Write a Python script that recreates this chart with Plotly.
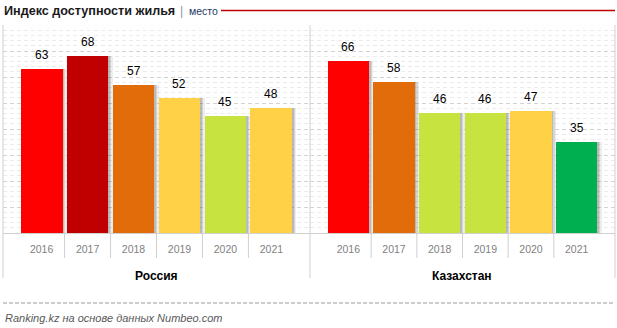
import plotly.graph_objects as go

# Housing affordability index rank by year
years = ["2016", "2017", "2018", "2019", "2020", "2021"]
russia = [63, 68, 57, 52, 45, 48]
kazakhstan = [66, 58, 46, 46, 47, 35]
groups = ["Россия", "Казахстан"]

RED, DARK_RED, ORANGE = "#FF0000", "#C00000", "#E36C0A"
YELLOW, LIME, GREEN = "#FFD147", "#C6E340", "#00B050"
russia_colors = [RED, DARK_RED, ORANGE, YELLOW, LIME, YELLOW]
kazakhstan_colors = [RED, ORANGE, LIME, LIME, YELLOW, GREEN]

W, H = 617, 328


def px_x(p):
    return p / W


def px_y(p):
    return 1 - p / H


BAR_W = 0.91
PAD = 0.34
XRANGE = [-0.5 - PAD, len(years) - 0.5 + PAD]
GRID = "#D2D2D2"
FRAME = "#D0D0D0"

fig = go.Figure()

series = [(russia, russia_colors, "x"), (kazakhstan, kazakhstan_colors, "x2")]
xs = list(range(len(years)))

for vals, cols, xa in series:
    # soft drop shadow on the right side of each bar
    for shift, alpha in [(0.09, 0.10), (0.06, 0.16), (0.035, 0.22)]:
        fig.add_trace(go.Bar(
            x=xs, y=vals, width=BAR_W, offset=-BAR_W / 2 + shift,
            marker=dict(color=f"rgba(90,90,90,{alpha})", line=dict(width=0)),
            xaxis=xa, yaxis="y", hoverinfo="skip", showlegend=False,
        ))
    fig.add_trace(go.Bar(
        x=xs, y=vals, width=BAR_W, offset=-BAR_W / 2,
        marker=dict(color=cols, line=dict(width=0)),
        xaxis=xa, yaxis="y", showlegend=False,
    ))

annotations = []
shapes = []

# value labels above bars
for vals, _, xa in series:
    for i, v in enumerate(vals):
        annotations.append(dict(
            x=i, y=v, xref=xa, yref="y", text=str(v), showarrow=False,
            yshift=14, font=dict(family="Liberation Sans", size=12, color="#000000"),
        ))

y_dom = [px_y(233), px_y(25)]
dom1 = [px_x(3), px_x(310)]
dom2 = [px_x(310), px_x(615)]

axis_common = dict(
    range=XRANGE, tickmode="array", tickvals=xs, ticktext=years,
    showgrid=False, zeroline=False, showline=True, linecolor=FRAME, linewidth=1,
    ticks="", ticklabelstandoff=6,
    tickfont=dict(family="Liberation Sans", size=10.5, color="#7F7F7F"),
    fixedrange=True,
)

fig.update_layout(
    width=W, height=H, margin=dict(l=0, r=0, t=0, b=0),
    paper_bgcolor="white", plot_bgcolor="white",
    barmode="overlay", bargap=0,
    xaxis=dict(domain=dom1, anchor="y", **axis_common),
    xaxis2=dict(domain=dom2, anchor="y", **axis_common),
    yaxis=dict(
        domain=y_dom, range=[0, 80], dtick=10, showticklabels=False,
        showgrid=True, gridcolor=GRID, griddash="4px,3px", gridwidth=1,
        minor=dict(dtick=2, showgrid=True, gridcolor="#EBEBEB", gridwidth=1),
        zeroline=False, showline=False, ticks="", fixedrange=True,
    ),
)

# group frame lines and category separators
for p in [3, 310, 615]:
    shapes.append(dict(type="line", xref="paper", yref="paper",
                       x0=px_x(p), x1=px_x(p), y0=px_y(25), y1=px_y(278),
                       line=dict(color=FRAME, width=1)))
for xa in ["x", "x2"]:
    for i in range(len(years) - 1):
        shapes.append(dict(type="line", xref=xa, yref="paper",
                           x0=i + 0.5, x1=i + 0.5, y0=px_y(233), y1=px_y(258),
                           line=dict(color=FRAME, width=1)))

# group labels under the year ticks
for name, dom in zip(groups, [dom1, dom2]):
    annotations.append(dict(
        x=(dom[0] + dom[1]) / 2, y=px_y(276), xref="paper", yref="paper",
        text=f"<b>{name}</b>", showarrow=False, xanchor="center", yanchor="middle",
        font=dict(family="Liberation Sans", size=12, color="#000000"),
    ))

# header
annotations.append(dict(
    x=px_x(2), y=px_y(11), xref="paper", yref="paper", xanchor="left", yanchor="middle",
    text="<b>Индекс доступности жилья</b>", showarrow=False,
    font=dict(family="Liberation Sans", size=12.6, color="#1A1A1A"),
))
annotations.append(dict(
    x=px_x(181), y=px_y(11), xref="paper", yref="paper", xanchor="center", yanchor="middle",
    text="|", showarrow=False,
    font=dict(family="Liberation Sans", size=12, color="#8496B0"),
))
annotations.append(dict(
    x=px_x(187), y=px_y(11.5), xref="paper", yref="paper", xanchor="left", yanchor="middle",
    text="место", showarrow=False,
    font=dict(family="Liberation Sans", size=10.5, color="#1F3864"),
))
shapes.append(dict(type="line", xref="paper", yref="paper",
                   x0=px_x(221), x1=px_x(615), y0=px_y(10.5), y1=px_y(10.5),
                   line=dict(color="#C00000", width=1.3)))

# footer
shapes.append(dict(type="line", xref="paper", yref="paper",
                   x0=px_x(3), x1=px_x(615), y0=px_y(303), y1=px_y(303),
                   line=dict(color="#9A9A9A", width=1, dash="4px,2px")))
annotations.append(dict(
    x=px_x(3), y=px_y(318), xref="paper", yref="paper", xanchor="left", yanchor="middle",
    text="<i>Ranking.kz на основе данных Numbeo.com</i>", showarrow=False,
    font=dict(family="Liberation Sans", size=11, color="#595959"),
))

fig.update_layout(annotations=annotations, shapes=shapes)
fig.write_html("out.html")
